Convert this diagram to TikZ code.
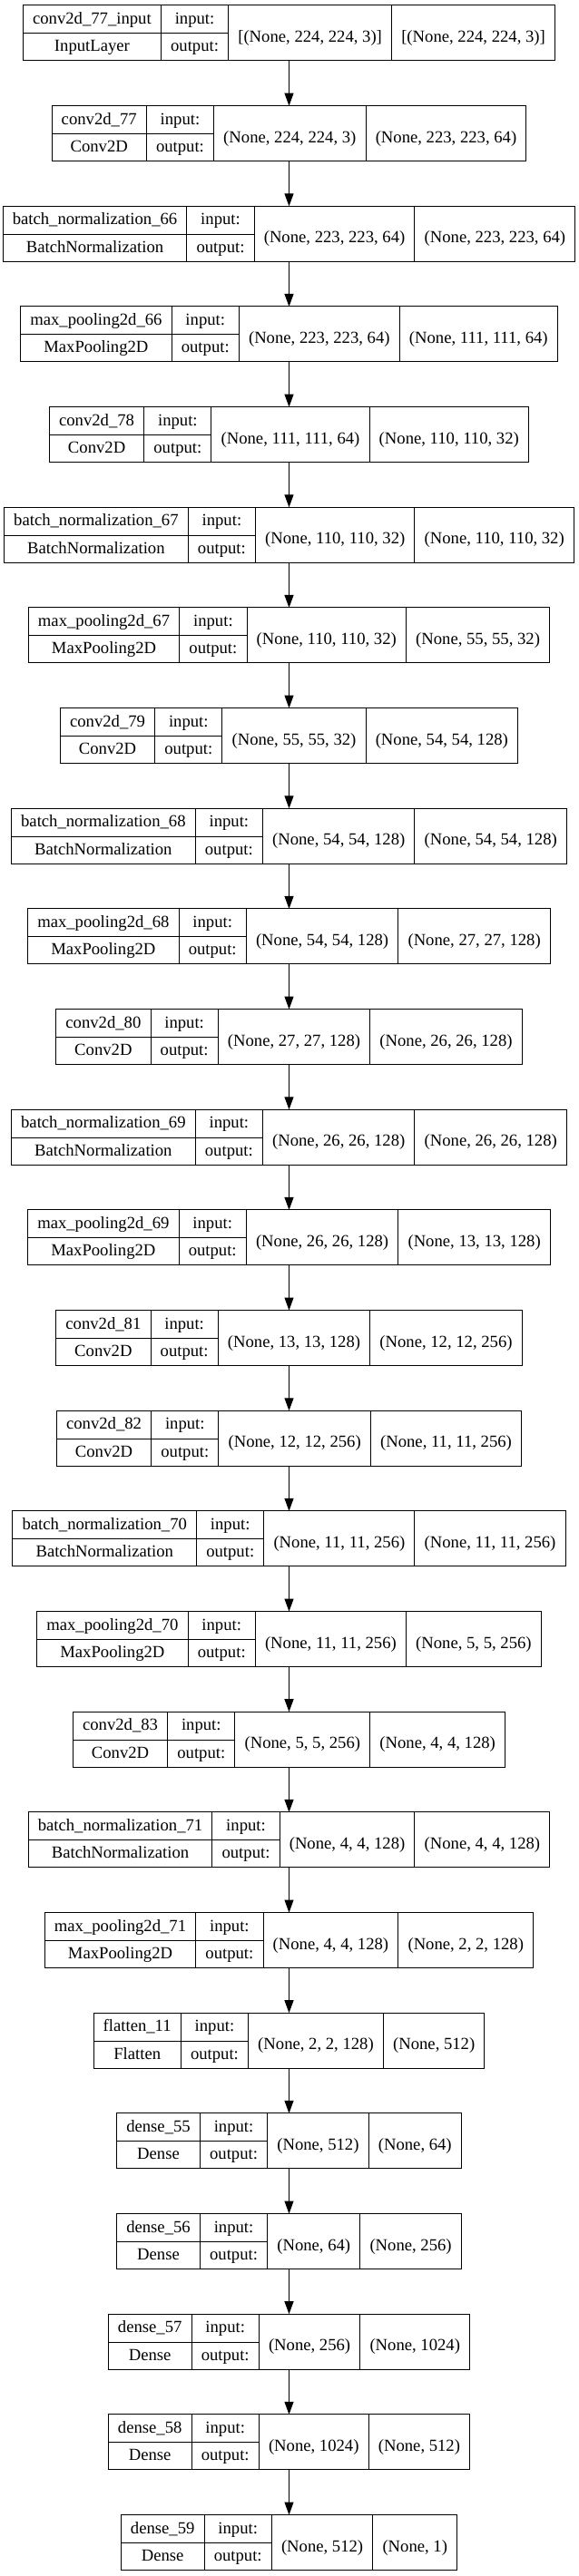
\documentclass[tikz,border=0pt]{standalone}
\usepackage{fontspec}
\setmainfont{Liberation Serif}
\usetikzlibrary{arrows.meta}

\setlength\tabcolsep{8pt}
\setlength\arrayrulewidth{0.75pt}
\newcommand\cellfont{\fontsize{14pt}{16pt}\selectfont}
\newcommand\cellstrut{\rule[-7.5pt]{0pt}{22.875pt}}
\newcommand\shapetext[1]{\raisebox{-15.1pt}[0pt][0pt]{#1}}

\tikzset{
  layer/.style={draw=black, line width=0.75pt, inner sep=0pt, outer sep=0pt,
    anchor=north, font=\cellfont},
  flow/.style={draw=black, line width=0.75pt, -{Triangle[length=10.5pt, width=7.5pt]}}
}

% one layer: node name, row, layer name, class, input shape, output shape
\newcommand\layerbox[6]{%
  \pgfmathsetlengthmacro\boxtop{-4.5pt-82.995pt*(#2-1)}%
  \node[layer] (#1) at (238.875pt,\boxtop) {%
    \begin{tabular}{c|c|c|c}
      \cellstrut #3 & input: & \shapetext{#5} & \shapetext{#6} \\ \cline{1-2}
      \cellstrut #4 & output: & & \\
    \end{tabular}};
}

\begin{document}
\begin{tikzpicture}
    \useasboundingbox (0,0) rectangle (477.75pt,-2130pt);

    % -------------------------------------------------------
    % 1. Layer boxes, top to bottom
    % -------------------------------------------------------
    \foreach \i/\nm/\cls/\inp/\outp in {
      1/conv2d\_77\_input/InputLayer/{[(None, 224, 224, 3)]}/{[(None, 224, 224, 3)]},
      2/conv2d\_77/Conv2D/{(None, 224, 224, 3)}/{(None, 223, 223, 64)},
      3/batch\_normalization\_66/BatchNormalization/{(None, 223, 223, 64)}/{(None, 223, 223, 64)},
      4/max\_pooling2d\_66/MaxPooling2D/{(None, 223, 223, 64)}/{(None, 111, 111, 64)},
      5/conv2d\_78/Conv2D/{(None, 111, 111, 64)}/{(None, 110, 110, 32)},
      6/batch\_normalization\_67/BatchNormalization/{(None, 110, 110, 32)}/{(None, 110, 110, 32)},
      7/max\_pooling2d\_67/MaxPooling2D/{(None, 110, 110, 32)}/{(None, 55, 55, 32)},
      8/conv2d\_79/Conv2D/{(None, 55, 55, 32)}/{(None, 54, 54, 128)},
      9/batch\_normalization\_68/BatchNormalization/{(None, 54, 54, 128)}/{(None, 54, 54, 128)},
      10/max\_pooling2d\_68/MaxPooling2D/{(None, 54, 54, 128)}/{(None, 27, 27, 128)},
      11/conv2d\_80/Conv2D/{(None, 27, 27, 128)}/{(None, 26, 26, 128)},
      12/batch\_normalization\_69/BatchNormalization/{(None, 26, 26, 128)}/{(None, 26, 26, 128)},
      13/max\_pooling2d\_69/MaxPooling2D/{(None, 26, 26, 128)}/{(None, 13, 13, 128)},
      14/conv2d\_81/Conv2D/{(None, 13, 13, 128)}/{(None, 12, 12, 256)},
      15/conv2d\_82/Conv2D/{(None, 12, 12, 256)}/{(None, 11, 11, 256)},
      16/batch\_normalization\_70/BatchNormalization/{(None, 11, 11, 256)}/{(None, 11, 11, 256)},
      17/max\_pooling2d\_70/MaxPooling2D/{(None, 11, 11, 256)}/{(None, 5, 5, 256)},
      18/conv2d\_83/Conv2D/{(None, 5, 5, 256)}/{(None, 4, 4, 128)},
      19/batch\_normalization\_71/BatchNormalization/{(None, 4, 4, 128)}/{(None, 4, 4, 128)},
      20/max\_pooling2d\_71/MaxPooling2D/{(None, 4, 4, 128)}/{(None, 2, 2, 128)},
      21/flatten\_11/Flatten/{(None, 2, 2, 128)}/{(None, 512)},
      22/dense\_55/Dense/{(None, 512)}/{(None, 64)},
      23/dense\_56/Dense/{(None, 64)}/{(None, 256)},
      24/dense\_57/Dense/{(None, 256)}/{(None, 1024)},
      25/dense\_58/Dense/{(None, 1024)}/{(None, 512)},
      26/dense\_59/Dense/{(None, 512)}/{(None, 1)}} {
        \layerbox{box\i}{\i}{\nm}{\cls}{\inp}{\outp}
    }

    % -------------------------------------------------------
    % 2. Arrows between consecutive layers
    % -------------------------------------------------------
    \foreach \i in {2,...,26} {
        \pgfmathtruncatemacro\j{\i-1}
        \draw[flow] (box\j.south) -- (box\i.north);
    }
\end{tikzpicture}
\end{document}
